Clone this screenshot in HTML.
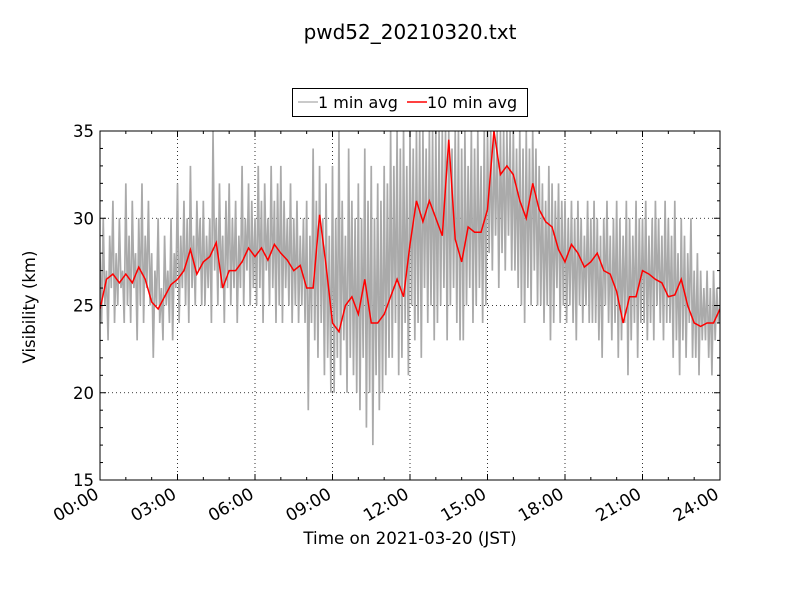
<!DOCTYPE html>
<html><head><meta charset="utf-8"><style>
body{margin:0;background:#fff}
svg{display:block;font-family:"DejaVu Sans","Liberation Sans",sans-serif}
</style></head><body>
<svg id="chart" width="800" height="600">
<rect width="800" height="600" fill="#fff"/>
<text x="410" y="39" text-anchor="middle" font-size="20">pwd52_20210320.txt</text>
<defs><clipPath id="pc"><rect x="100" y="131" width="620" height="349"/></clipPath></defs>
<g id="grid"></g>
<g clip-path="url(#pc)"><path id="gray" fill="none" stroke="#aaaaaa" stroke-width="1.7"/>
<path id="red" fill="none" stroke="#ff0000" stroke-width="1.5"/></g>
<rect x="100" y="131" width="620" height="349" fill="none" stroke="#000" stroke-width="1"/>
<g id="ticks"></g>
<text transform="translate(35,307) rotate(-90)" text-anchor="middle" font-size="16.5">Visibility (km)</text>
<text x="410" y="544" text-anchor="middle" font-size="16.7">Time on 2021-03-20 (JST)</text>
<g>
<rect x="292.5" y="88.5" width="235" height="28" fill="#fff" stroke="#000"/>
<g><line x1="298" y1="102" x2="318" y2="102" stroke="#aaa" stroke-width="1.3"/><text x="318" y="108" font-size="16">1 min avg</text></g>
<g><line x1="407" y1="102" x2="427" y2="102" stroke="#f00" stroke-width="1.4"/><text x="427" y="108" font-size="16">10 min avg</text></g>
</g>
</svg>
<script>
const xTickLabels=["00:00","03:00","06:00","09:00","12:00","15:00","18:00","21:00","24:00"];
const yTickLabels=[15,20,25,30,35];
const redValues=[24.8,26.5,26.8,26.3,26.8,26.3,27.2,26.5,25.2,24.8,25.5,26.2,26.5,27.0,28.2,26.8,27.5,27.8,28.6,26.0,27.0,27.0,27.5,28.3,27.8,28.3,27.6,28.5,28.0,27.6,27.0,27.3,26.0,26.0,30.2,27.3,24.0,23.5,25.0,25.5,24.5,26.5,24.0,24.0,24.5,25.5,26.5,25.5,28.5,31.0,29.8,31.0,30.0,29.0,34.5,28.8,27.5,29.5,29.2,29.2,30.5,35.0,32.5,33.0,32.5,31.0,30.0,32.0,30.5,29.8,29.5,28.2,27.5,28.5,28.0,27.2,27.5,28.0,27.0,26.8,25.8,24.0,25.5,25.5,27.0,26.8,26.5,26.3,25.5,25.6,26.5,25.0,24.0,23.8,24.0,24.0,24.8];
const grayValues=[
28,24,30,25,27,23,29,26,31,24,28,25,30,26,27,24,
32,25,29,24,31,26,28,23,30,25,32,24,29,26,31,25,
28,22,27,25,30,24,26,23,29,25,27,24,30,23,28,26,
32,24,29,26,31,25,30,24,33,26,29,25,31,27,30,25,
31,25,29,26,30,24,35,27,30,25,32,26,29,24,31,26,
32,25,30,26,31,24,29,26,33,25,30,27,32,25,31,26,
30,25,33,26,31,24,32,27,30,25,33,26,31,24,32,25,
33,24,31,26,30,25,32,24,30,25,31,24,29,25,30,24,
31,19,29,24,34,23,31,22,33,24,30,21,32,22,29,20,
33,20,30,22,35,21,31,23,29,20,34,22,31,21,30,20,
32,19,30,22,34,18,31,20,33,17,30,21,32,19,31,20,
33,21,32,22,35,22,33,24,35,21,34,22,35,24,33,21,
35,25,34,23,35,24,35,22,35,26,34,24,35,25,35,23,
35,24,35,25,35,26,35,23,35,25,34,26,35,24,35,23,
34,23,35,25,33,26,35,24,34,25,35,26,33,24,35,25,
35,28,35,27,35,29,35,26,35,28,35,27,35,29,35,27,
35,27,34,26,35,25,34,24,35,26,34,25,35,27,34,25,
33,25,32,24,31,25,33,23,32,24,31,26,32,24,31,25,
31,24,30,25,31,24,30,23,31,25,30,24,29,25,31,24,
30,24,31,24,30,23,29,22,30,25,31,24,29,23,30,24,
31,22,30,23,29,24,31,21,30,23,29,24,31,22,30,24,
30,24,31,23,29,24,30,23,31,25,30,24,29,23,31,24,
30,24,29,22,31,23,28,21,30,23,29,22,28,24,30,22,
27,22,28,21,27,23,26,23,27,22,26,21,27,23,26,24,25];
const X0=100,X1=720,Y0=480,Y1=131;
const xs=h=>X0+(X1-X0)*h/24;
const ys=v=>Y0-(Y0-Y1)*(v-15)/20;
const NS="http://www.w3.org/2000/svg";
function mk(tag,attrs,parent){const e=document.createElementNS(NS,tag);for(const k in attrs)e.setAttribute(k,attrs[k]);parent.appendChild(e);return e;}
const line=(vals)=>vals.map((v,i)=>(i?"L":"M")+xs(i*24/(vals.length-1)).toFixed(2)+","+ys(v).toFixed(2)).join("");
document.getElementById("gray").setAttribute("d",line(grayValues));
document.getElementById("red").setAttribute("d",line(redValues));
const grid=document.getElementById("grid"),ticks=document.getElementById("ticks");
xTickLabels.forEach((lab,i)=>{
  const h=i*3,x=xs(h);
  if(i>0&&i<8){const g=mk("line",{x1:x,x2:x,y1:Y1,y2:Y0,stroke:"#000","stroke-width":0.8,"stroke-dasharray":"1,3"},grid);
  
  }
  const t=mk("text",{transform:`translate(${x-6},${Y0+7}) rotate(-30)`,"text-anchor":"end","font-size":17,y:12},ticks);
  t.textContent=lab;
  
  
});
for(let h=0;h<=24;h++){const x=xs(h),L=h%3==0?6:3;
  mk("line",{x1:x,x2:x,y1:Y0,y2:Y0-L,stroke:"#000"},ticks);mk("line",{x1:x,x2:x,y1:Y1,y2:Y1+L,stroke:"#000"},ticks);}
yTickLabels.forEach(v=>{const y=ys(v);
  if(v>15&&v<35){const g=mk("line",{x1:X0,x2:X1,y1:y,y2:y,stroke:"#000","stroke-width":0.8,"stroke-dasharray":"1,3"},grid);
  
  }
  const t=mk("text",{x:X0-6,y:y+6,"text-anchor":"end","font-size":16.5},ticks);
  t.textContent=v;
  
  
});
for(let v=15;v<=35;v++){const y=ys(v),L=v%5==0?6:3;
  mk("line",{x1:X0,x2:X0+L,y1:y,y2:y,stroke:"#000"},ticks);mk("line",{x1:X1,x2:X1-L,y1:y,y2:y,stroke:"#000"},ticks);}
</script>
</body></html>
